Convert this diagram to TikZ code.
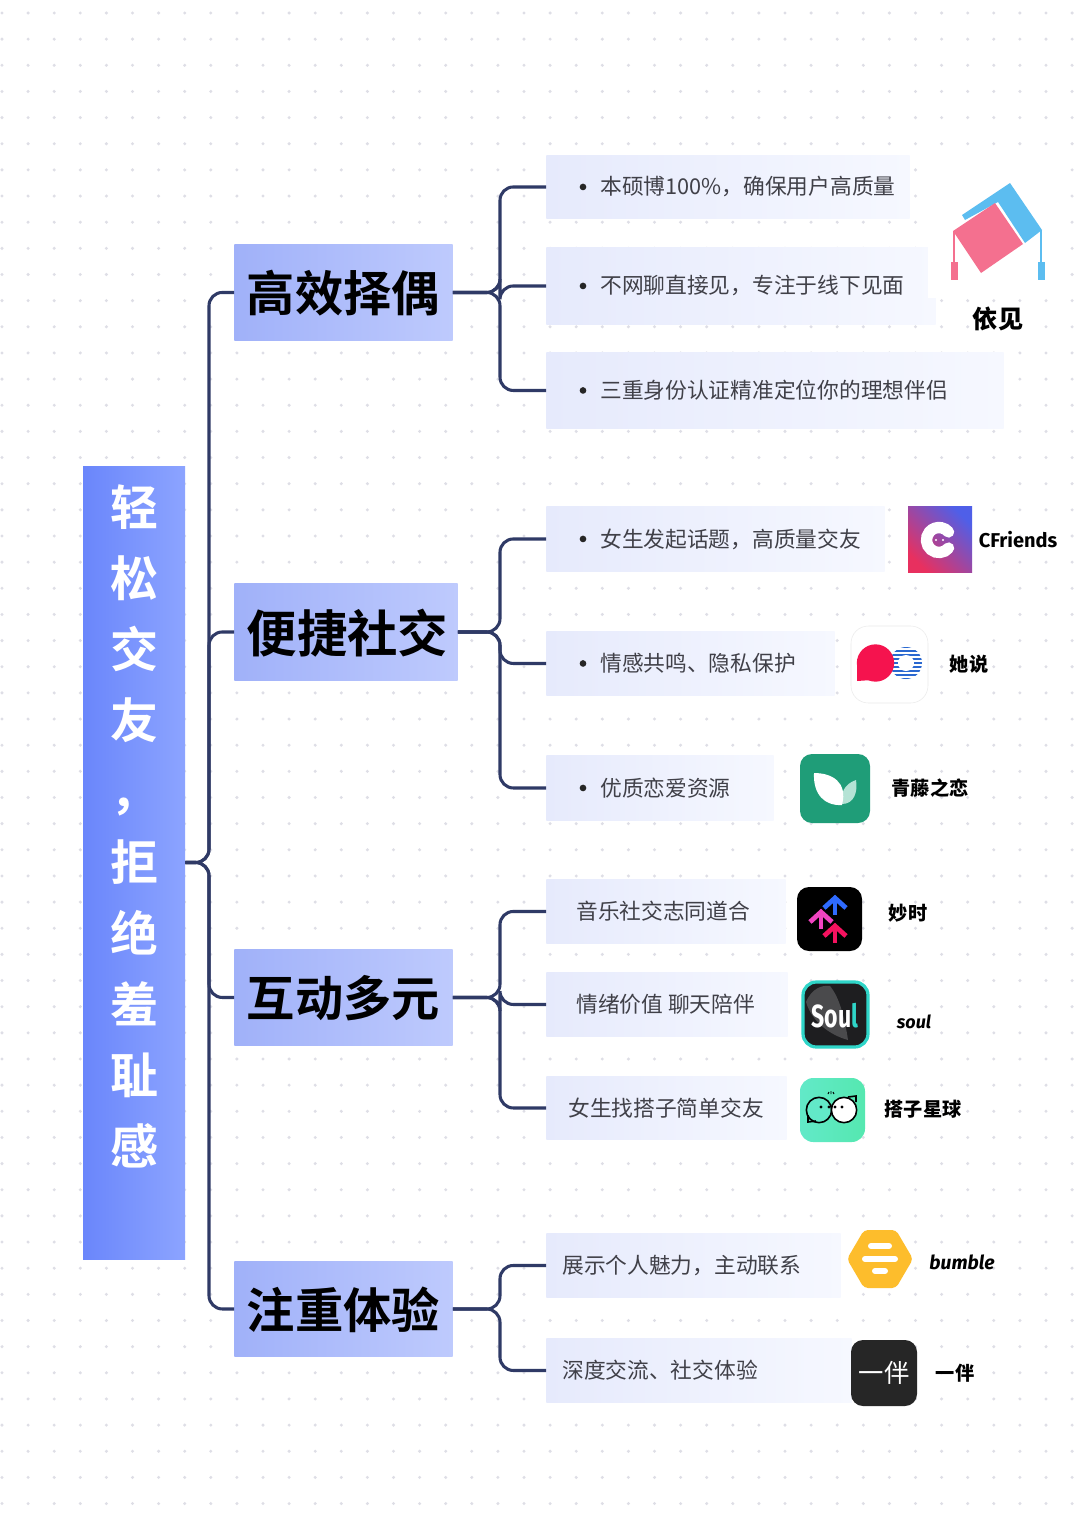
\documentclass[tikz,border=0pt]{standalone}
\usepackage{fontspec}
\usepackage{xcolor}
\usetikzlibrary{calc}
\setmainfont{Noto Sans CJK SC}
\newfontfamily\cjkreg{Noto Sans CJK SC}
\newfontfamily\cjkbold{Noto Sans CJK SC Bold}
\newfontfamily\cjkheavy{Noto Sans CJK SC Black}
\newfontfamily\latinheavy{Fira Sans}
\definecolor{linknavy}{HTML}{2F3A66}
\definecolor{itemtextgray}{HTML}{404048}
\definecolor{griddot}{HTML}{DEDEE6}
\definecolor{titlea}{HTML}{6A86FB}
\definecolor{titleb}{HTML}{8CA4FF}
\definecolor{cata}{HTML}{A0B1F9}
\definecolor{catb}{HTML}{BECAFD}
\definecolor{itema}{HTML}{E6EAFC}
\definecolor{itemb}{HTML}{F6F8FF}
\definecolor{logoblue}{HTML}{5CBDF0}
\definecolor{logopink}{HTML}{F4708F}
\definecolor{cfa}{HTML}{E8305F}
\definecolor{cfb}{HTML}{4F5FE8}
\definecolor{tsblue}{HTML}{2A68D0}
\definecolor{tsred}{HTML}{F5134E}
\definecolor{qtgreen}{HTML}{1F9D78}
\definecolor{qtleaf}{HTML}{B5E3D5}
\definecolor{msblue}{HTML}{2F6BFF}
\definecolor{mspink}{HTML}{F044C0}
\definecolor{msred}{HTML}{F5125F}
\definecolor{soulteal}{HTML}{2FD5C8}
\definecolor{souldark}{HTML}{1E1E20}
\definecolor{soulgray}{HTML}{4A4A4C}
\definecolor{dza}{HTML}{62E9C8}
\definecolor{dzb}{HTML}{55E8B0}
\definecolor{bmyellow}{HTML}{FDBD2C}
\definecolor{ybdark}{HTML}{262626}
\tikzstyle{griddotmark}=[fill=griddot]
\tikzstyle{titlebox}=[left color=titlea, right color=titleb, inner sep=0pt, align=center, text=white]
\tikzstyle{catbox}=[left color=cata, right color=catb, inner sep=0pt, anchor=north west]
\tikzstyle{itembox}=[left color=itema, right color=itemb, inner sep=0pt, anchor=north west]
\tikzstyle{cattext}=[font=\cjkbold\fontsize{36.2}{40}\selectfont, text=black, inner sep=0pt]
\tikzstyle{itemtext}=[font=\cjkreg\fontsize{16.3}{20}\selectfont, text=itemtextgray, inner sep=0pt, anchor=west]
\tikzstyle{bulletdot}=[circle, fill=black!85, inner sep=0pt, minimum size=5pt]
\tikzstyle{branch}=[draw=linknavy, line width=2.3pt, rounded corners=10pt]
\tikzstyle{logolabel}=[font=\cjkheavy\fontsize{14.4}{16}\selectfont, text=black, inner sep=0pt]
\tikzstyle{latinlabel}=[font=\latinheavy\bfseries\fontsize{15}{16}\selectfont, text=black, inner sep=0pt]
\newcommand{\itemNbox}[7]{
	\node[itembox, minimum width={(#3-#2-.6)*.75pt}, minimum height={(#5-#4-.6)*.75pt}] (#1) at (#2,#4) {};
	\node[itemtext] (#1text) at ($(#1.west)+({#6-#2},0)$) {#7};
}
\newcommand{\catNbox}[5]{
	\node[catbox, minimum width={(#3-#2-.6)*.75pt}, minimum height={(#5-#4-.6)*.75pt}] (#1) at (#2,#4) {};
}
\begin{document}
\begin{tikzpicture}[x=.75pt,y=-.75pt]
	\useasboundingbox (0,0) rectangle (1080,1528);
	\fill[white] (0,0) rectangle (1080,1528);
	% dotted paper
	\foreach \i in {0,...,41} {
		\foreach \j in {0,...,57} {
			\fill[griddotmark] ({2+26.1*\i},{13+26.15*\j}) circle (1.25pt);
		}
	}
	% main title
	\node[titlebox, minimum width=76.5pt, minimum height=594.75pt, font=\cjkbold\fontsize{36}{53.25}\selectfont] (title) at (134,862.5)
		{轻\\松\\交\\友\\，\\拒\\绝\\羞\\耻\\感\\[3pt]~};
	% the four groups
	\catNbox{effcat}{234}{453}{244}{341}
	\catNbox{soccat}{234}{458}{583}{681}
	\catNbox{intcat}{234}{453}{949}{1046}
	\catNbox{expcat}{234}{453}{1261}{1357}
	\node[cattext] (efftext) at (343.5,293) {高效择偶};
	\node[cattext, font=\cjkbold\fontsize{37.8}{40}\selectfont] (soctext) at (347.5,633) {便捷社交};
	\node[cattext] (inttext) at (343.5,998) {互动多元};
	\node[cattext] (exptext) at (343.5,1310) {注重体验};
	% items
	\itemNbox{effa}{546}{910}{155}{219}{600}{本硕博100\%，确保用户高质量}
	\itemNbox{effb}{546}{936}{247}{325}{600}{不网聊直接见，专注于线下见面}
	\itemNbox{effc}{546}{1004}{352}{429}{600}{三重身份认证精准定位你的理想伴侣}
	\itemNbox{soca}{546}{885}{506}{572}{600}{女生发起话题，高质量交友}
	\itemNbox{socb}{546}{835}{631}{696}{600}{情感共鸣、隐私保护}
	\itemNbox{socc}{546}{774}{755}{821}{600}{优质恋爱资源}
	\itemNbox{inta}{546}{786}{879}{944}{576}{音乐社交志同道合}
	\itemNbox{intb}{546}{788}{972}{1037}{576}{情绪价值 聊天陪伴}
	\itemNbox{intc}{546}{787}{1076}{1140}{568}{女生找搭子简单交友}
	\itemNbox{expa}{546}{841}{1233}{1298}{562}{展示个人魅力，主动联系}
	\itemNbox{expb}{546}{852}{1338}{1403}{562}{深度交流、社交体验}
	\foreach \name in {effa,effb,effc,soca,socb,socc} {
		\node[bulletdot] (\name dot) at ($(\name.west)+(37,0)$) {};
	}
	% connectors
	\coordinate (mainspine) at (209,862.5);
	\draw[branch] (title.east) -- (mainspine) |- (effcat.west);
	\draw[branch] (title.east) -- (mainspine) |- (soccat.west);
	\draw[branch] (title.east) -- (mainspine) |- (intcat.west);
	\draw[branch] (title.east) -- (mainspine) |- (expcat.west);
	\coordinate (effspine) at (500,292.5);
	\coordinate (socspine) at (500,632);
	\coordinate (intspine) at (500,997.5);
	\coordinate (expspine) at (500,1309);
	\foreach \name in {effa,effb,effc} {
		\draw[branch] (effcat.east) -- (effspine) |- (\name.west);
	}
	\foreach \name in {soca,socb,socc} {
		\draw[branch] (soccat.east) -- (socspine) |- (\name.west);
	}
	\foreach \name in {inta,intb,intc} {
		\draw[branch] (intcat.east) -- (intspine) |- (\name.west);
	}
	\foreach \name in {expa,expb} {
		\draw[branch] (expcat.east) -- (expspine) |- (\name.west);
	}
	% yijian logo
	\fill[white] (928,165) rectangle (1060,298);
	\fill[logoblue] (962,215) -- (1010,183) -- (1042,230) -- (1025,243) -- (998,202) -- (965,220) -- cycle;
	\fill[logopink] (953,231) -- (995,203) -- (1023,244) -- (981,273) -- cycle;
	\draw[logopink, line width=1.8pt] (954,231) -- (954,265);
	\fill[logopink] (951,262) rectangle (958,280);
	\draw[logoblue, line width=1.8pt] (1041,230) -- (1041,265);
	\fill[logoblue] (1038,262) rectangle (1045,280);
	\node[logolabel, fill=white, inner sep=2pt, font=\cjkheavy\fontsize{18.8}{20}\selectfont] (yijian) at (998,319) {依见};
	% cfriends logo
	\path[left color=cfa, right color=cfb, shading angle=135] (908,506) rectangle (972,572);
	\draw[white, line width=8.5pt, line cap=round] ($(939,540)+(40:12.5)$) arc (40:320:12.5);
	\fill[white] (936,540) circle (.9pt) (943,540) circle (.9pt);
	\node[latinlabel] (cfriends) at (1018,540) {CFriends};
	% tashuo logo
	\draw[draw=black!8, fill=white, rounded corners=13pt] (851,626) rectangle (928,703);
	\begin{scope}
		\clip (906,663) circle (12pt);
		\foreach \k in {0,...,8} {
			\draw[tsblue, line width=1.5pt] (885,{647+4*\k}) -- (925,{647+4*\k});
		}
	\end{scope}
	\fill[white] (906,663) circle (6pt);
	\fill[tsred] (875.5,663) circle (14pt);
	\fill[tsred] (857,665) -- (857,681) -- (872,680) -- cycle;
	\node[logolabel] (tashuo) at (969,664) {她说};
	% qingteng logo
	\fill[qtgreen, rounded corners=9pt] (800,754) rectangle (870,823);
	\fill[qtleaf] (856,780) .. controls (858,792) and (854,804) .. (842,804) .. controls (840,794) and (844,784) .. cycle;
	\fill[white] (814,773) .. controls (832,773) and (848,782) .. (842,805) .. controls (825,806) and (813,795) .. cycle;
	\node[logolabel] (qingteng) at (930,788) {青藤之恋};
	% miaoshi logo
	\fill[black, rounded corners=9pt] (797,887) rectangle (862,951);
	\foreach \ax/\ay/\acol in {835/895/msblue,821/909/mspink,835/923/msred} {
		\draw[\acol, line width=3.6pt] (\ax-11,\ay+13) -- (\ax,\ay+3) -- (\ax+11,\ay+13);
		\draw[\acol, line width=3.6pt] (\ax,\ay+3) -- (\ax,\ay+20);
	}
	\node[logolabel] (miaoshi) at (908,913) {妙时};
	% soul logo
	\draw[draw=soulteal, fill=souldark, line width=2.4pt, rounded corners=10pt] (803,982) rectangle (868,1047);
	\fill[soulgray] (806,1002) .. controls (812,988) and (822,985) .. (830,986) .. controls (840,998) and (845,1020) .. (848,1040) .. controls (830,1035) and (812,1022) .. cycle;
	\node[inner sep=0pt, text=white, font=\latinheavy\bfseries\fontsize{24}{26}\selectfont, xscale=.72] (soulmark) at (835,1016) {Sou\textcolor{soulteal}{l}};
	\node[latinlabel, font=\latinheavy\bfseries\itshape\fontsize{13.5}{16}\selectfont] (soul) at (914,1022) {soul};
	% dazi logo
	\path[left color=dza, right color=dzb, rounded corners=10pt] (800,1078) rectangle (865,1142);
	\draw[black, fill=dza, line width=1.2pt] (819,1110) circle (9.5pt);
	\draw[black, line width=1.2pt] (808,1115) -- (808,1122) -- (816,1121);
	\draw[black, fill=white, line width=1.2pt] (844,1110) circle (9.5pt);
	\draw[black, line width=1.2pt] (856,1102) -- (856,1096) -- (848,1097);
	\fill[black] (821,1107) circle (1.2pt) (829,1107) circle (1.2pt) (835,1107) circle (1.2pt) (842,1107) circle (1.2pt);
	\draw[black, line width=.7pt] (828,1094) -- (829,1092) (831,1094) -- (831,1091) (834,1094) -- (833,1092);
	\node[logolabel] (dazi) at (923,1109) {搭子星球};
	% bumble logo
	\fill[bmyellow, rounded corners=3pt] (847,1259) -- (864,1230) -- (896,1230) -- (913,1259) -- (896,1288) -- (864,1288) -- cycle;
	\draw[white, line width=4.5pt, line cap=round] (871,1246) -- (889,1246) (865,1259) -- (895,1259) (875,1271) -- (885,1271);
	\node[latinlabel, font=\latinheavy\bfseries\itshape\fontsize{14.5}{16}\selectfont] (bumble) at (962,1262) {bumble};
	% yiban logo
	\fill[ybdark, rounded corners=9pt] (851,1340) rectangle (917,1406);
	\node[inner sep=0pt, text=white, font=\cjkreg\fontsize{19}{20}\selectfont] (yibanmark) at (884,1373) {一伴};
	\node[logolabel] (yiban) at (955,1373) {一伴};
\end{tikzpicture}
\end{document}
